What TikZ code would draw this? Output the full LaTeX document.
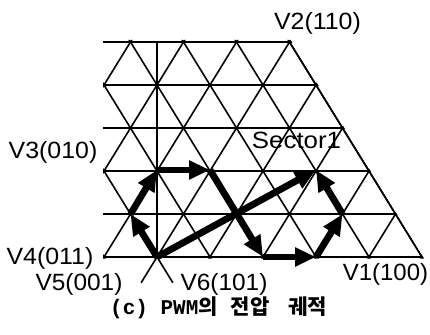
\documentclass[tikz,border=0pt]{standalone}
\usepackage{fontspec}
\setmainfont{Liberation Sans}
\newfontfamily\krfont{Noto Sans CJK KR}
\newfontfamily\capmono{Liberation Mono}
\usetikzlibrary{arrows.meta}
\begin{document}
\begin{tikzpicture}[x=1pt,y=-1pt,
  gridline/.style={line width=1.6pt},
  traj/.style={line width=6.8pt,-{Triangle[length=21pt,width=18pt]}},
  lbl/.style={font=\fontsize{23.5}{28}\selectfont, inner sep=0pt, anchor=base}]
\useasboundingbox (0,0) rectangle (430,334);
% lattice
\begin{scope}
  \clip (103,40) -- (290.7,40) -- (424,258.5) -- (103,258.5) -- cycle;
  \foreach \k in {0,...,5} \draw[gridline] (90,{257-43*\k}) -- (440,{257-43*\k});
  \foreach \a in {-3,...,5} \draw[gridline] ({157+53*\a-26.5},300) -- ({157+53*\a+26.5*6},{257-43*6});
  \foreach \c in {-1,...,5} \draw[gridline] ({157+53*\c+26.5},300) -- ({157+53*\c-26.5*6},{257-43*6});
  \draw[gridline] (157,42) -- (157,257);
\end{scope}
\coordinate (V2) at (289.5,42);
\coordinate (V1) at (422,257);
\coordinate (V4) at (104,257);
\draw[gridline] (V2) -- (V1);
\draw[line width=2.4pt] (V4) -- (V1);
% trajectory points
\coordinate (O) at (157,257);
\coordinate (P1) at (130.5,214);
\coordinate (P2) at (157,170);
\coordinate (P3) at (210,170);
\coordinate (P4) at (263,257);
\coordinate (P5) at (316,257);
\coordinate (P6) at (342.5,214);
\coordinate (P7) at (316,170);
\coordinate (V5) at ({157-26.5*0.6},{257+43*0.6});
\coordinate (V6) at ({157+26.5*0.6},{257+43*0.6});
\draw[gridline] (O) -- (V5);
\draw[gridline] (O) -- (V6);
% arrows
\draw[traj] (O) -- (P1);
\draw[traj] (P1) -- (P2);
\draw[traj] (P2) -- (P3);
\draw[traj] (P3) -- (P4);
\draw[traj] (P4) -- (P5);
\draw[traj] (P5) -- (P6);
\draw[traj] (P6) -- (P7);
\draw[traj] (O) -- (P7);
% labels
\node[lbl] (lv2) at (317.5,29.5) {\scalebox{1.06}[1]{V2(110)}};
\node[lbl] (lv3) at (53,158) {\scalebox{1.06}[1]{V3(010)}};
\node[lbl] (lv4) at (50,264) {\scalebox{1.06}[1]{V4(011)}};
\node[lbl] (lv5) at (79,290) {\scalebox{1.04}[1]{V5(001)}};
\node[lbl] (lv6) at (224,290) {\scalebox{1.04}[1]{V6(101)}};
\node[lbl] (lv1) at (385.5,280) {\scalebox{1.02}[1]{V1(100)}};
\node[lbl] (sec) at (296.5,148) {\scalebox{1.1}[1]{Sector1}};
\node[inner sep=0pt, anchor=base west] (cap) at (110,314)
  {\capmono\bfseries\fontsize{21}{24}\selectfont (c) PWM\krfont\fontsize{21}{24}\selectfont 의\hspace{13pt}전압\hspace{19pt}궤적};
\end{tikzpicture}
\end{document}
